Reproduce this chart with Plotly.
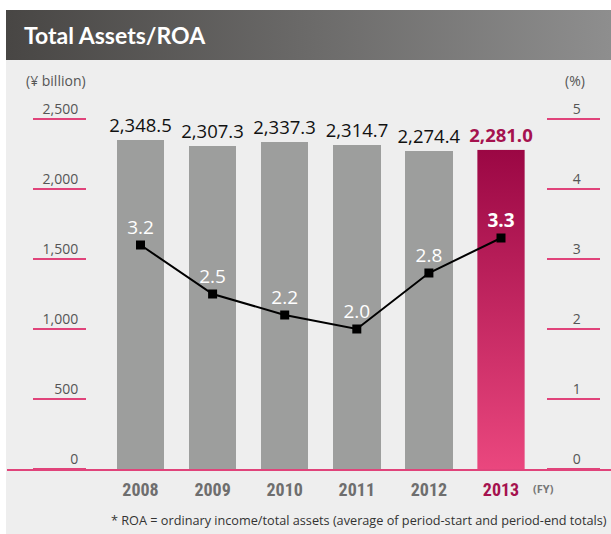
import base64
import plotly.graph_objects as go

years = [2008, 2009, 2010, 2011, 2012, 2013]
total_assets = [2348.5, 2307.3, 2337.3, 2314.7, 2274.4, 2281.0]
roa = [3.2, 2.5, 2.2, 2.0, 2.8, 3.3]
left_ticks = [0, 500, 1000, 1500, 2000, 2500]
left_ticktext = ["0", "500", "1,000", "1,500", "2,000", "2,500"]
right_ticks = [0, 1, 2, 3, 4, 5]
year_labels = ["2008", "2009", "2010", "2011", "2012", "2013"]

GRAY_BAR = "#9d9e9d"
CRIMSON = "#a5124e"
PINK = "#e0437a"
BG = "#eeeeee"
W, H = 611, 534
ML, MR, MT, MB = 7, 0, 49, 65
PW, PH = W - ML - MR, H - MT - MB


def px_x(p):
    return (p - ML) / PW


def px_y(p):
    return (H - MB - p) / PH


def svg_uri(svg):
    return "data:image/svg+xml;base64," + base64.b64encode(svg.encode()).decode()


title_svg = (
    '<svg xmlns="http://www.w3.org/2000/svg" width="100" height="10" viewBox="0 0 100 10" '
    'preserveAspectRatio="none"><defs><linearGradient id="g" x1="0" x2="1" y1="0" y2="0">'
    '<stop offset="0" stop-color="#484644"/><stop offset="1" stop-color="#8e8e8e"/>'
    '</linearGradient></defs><rect width="100" height="10" fill="url(#g)"/></svg>'
)
bar_svg = (
    '<svg xmlns="http://www.w3.org/2000/svg" width="10" height="100" viewBox="0 0 10 100" '
    'preserveAspectRatio="none"><defs><linearGradient id="g" x1="0" x2="0" y1="0" y2="1">'
    '<stop offset="0" stop-color="#9b0744"/><stop offset="1" stop-color="#ea477e"/>'
    '</linearGradient></defs><rect width="10" height="100" fill="url(#g)"/></svg>'
)

BAR_W = 0.66
bar_colors = [GRAY_BAR] * 5 + ["rgba(0,0,0,0)"]
bar_text_colors = ["#111111"] * 5 + [CRIMSON]
bar_templates = ["%{y:,.1f}"] * 5 + ["<b>%{y:,.1f}</b>"]
line_templates = ["%{y:.1f}"] * 5 + ["<b>%{y:.1f}</b>"]

fig = go.Figure()
fig.add_trace(go.Bar(
    x=years, y=total_assets, width=BAR_W,
    marker=dict(color=bar_colors, line=dict(width=0)),
    texttemplate=bar_templates, textposition="outside", cliponaxis=False,
    constraintext="none",
    textfont=dict(family="Open Sans, Noto Sans, sans-serif", size=18.5, color=bar_text_colors),
    hoverinfo="skip", showlegend=False,
))
fig.add_trace(go.Scatter(
    x=years, y=roa, yaxis="y2", mode="lines+markers+text",
    line=dict(color="black", width=2),
    marker=dict(symbol="square", size=9, color="black"),
    texttemplate=line_templates, textposition="top center",
    textfont=dict(family="Open Sans, Noto Sans, sans-serif", size=19, color="white"),
    cliponaxis=False, hoverinfo="skip", showlegend=False,
))

# gradient fill for the highlighted last bar, positioned in data coordinates
fig.add_layout_image(dict(
    source=svg_uri(bar_svg), xref="x", yref="y",
    x=years[-1] - BAR_W / 2, y=total_assets[-1],
    sizex=BAR_W, sizey=total_assets[-1],
    xanchor="left", yanchor="top", sizing="stretch", layer="below",
))
# title bar gradient
fig.add_layout_image(dict(
    source=svg_uri(title_svg), xref="paper", yref="paper",
    x=px_x(6), y=px_y(10), sizex=px_x(W) - px_x(6), sizey=px_y(10) - px_y(60),
    xanchor="left", yanchor="top", sizing="stretch", layer="above",
))

# white page margins around the grey panel
fig.add_shape(type="rect", xref="paper", yref="paper", x0=px_x(0), x1=px_x(W),
              y0=px_y(10), y1=px_y(0), fillcolor="white", line_width=0, layer="below")
fig.add_shape(type="rect", xref="paper", yref="paper", x0=px_x(0), x1=px_x(6),
              y0=px_y(H), y1=px_y(0), fillcolor="white", line_width=0, layer="below")

x_left = years[0] - (140.5 - ML) / 72.1
x_right = x_left + PW / 72.1

tick_font = dict(family="Open Sans, Noto Sans, sans-serif", size=14, color="#555555")
ticktext_x = ["<b>%s</b>" % t for t in year_labels[:-1]] + [
    "<b><span style='color:%s'>%s</span></b>" % (CRIMSON, year_labels[-1])]

fig.update_layout(
    width=W, height=H,
    margin=dict(l=ML, r=MR, t=MT, b=MB, pad=0),
    paper_bgcolor=BG, plot_bgcolor="rgba(0,0,0,0)",
    bargap=0,
    xaxis=dict(
        range=[x_left, x_right], domain=[0, 1],
        tickvals=years, ticktext=ticktext_x,
        tickfont=dict(family="Liberation Sans Narrow, Roboto Condensed, DejaVu Sans Condensed, sans-serif",
                      size=18, color="#6e6e6e"),
        showgrid=False, zeroline=False, showline=True, linecolor=PINK, linewidth=1.5,
        ticks="", ticklabelstandoff=4,
    ),
    yaxis=dict(
        range=[0, 3000], anchor="free", position=px_x(86),
        tickvals=left_ticks, ticktext=left_ticktext, tickfont=tick_font,
        ticks="outside", ticklen=53, tickwidth=2, tickcolor=PINK,
        ticklabelstandoff=-48, ticklabelshift=-10,
        showgrid=False, zeroline=False, showline=False,
    ),
    yaxis2=dict(
        range=[0, 6], overlaying="y", side="right", anchor="free", position=px_x(546),
        tickvals=right_ticks, tickfont=tick_font,
        ticks="outside", ticklen=53, tickwidth=2, tickcolor=PINK,
        ticklabelstandoff=-30, ticklabelshift=-10,
        showgrid=False, zeroline=False, showline=False,
    ),
    annotations=[
        dict(text="<b>Total Assets/ROA</b>", xref="paper", yref="paper", x=px_x(22), y=px_y(35),
             xanchor="left", yanchor="middle", showarrow=False,
             font=dict(family="Lato, Open Sans, sans-serif", size=23, color="white")),
        dict(text="(¥ billion)", xref="paper", yref="paper", x=px_x(24), y=px_y(81),
             xanchor="left", yanchor="middle", showarrow=False, font=tick_font),
        dict(text="(%)", xref="paper", yref="paper", x=px_x(563), y=px_y(81),
             xanchor="left", yanchor="middle", showarrow=False, font=tick_font),
        dict(text="<b>(FY)</b>", xref="paper", yref="paper", x=px_x(531), y=px_y(488),
             xanchor="left", yanchor="middle", showarrow=False,
             font=dict(family="Open Sans, Noto Sans, sans-serif", size=11, color="#777777")),
        dict(text="* ROA = ordinary income/total assets (average of period-start and period-end totals)",
             xref="paper", yref="paper", x=px_x(609), y=px_y(520),
             xanchor="right", yanchor="middle", showarrow=False,
             font=dict(family="Open Sans, Noto Sans, sans-serif", size=12.7, color="#333333")),
    ],
)

fig.write_html(
    "out.html",
    config={"displayModeBar": False},
    post_script="document.body.style.margin='0';document.body.style.padding='0';",
)
